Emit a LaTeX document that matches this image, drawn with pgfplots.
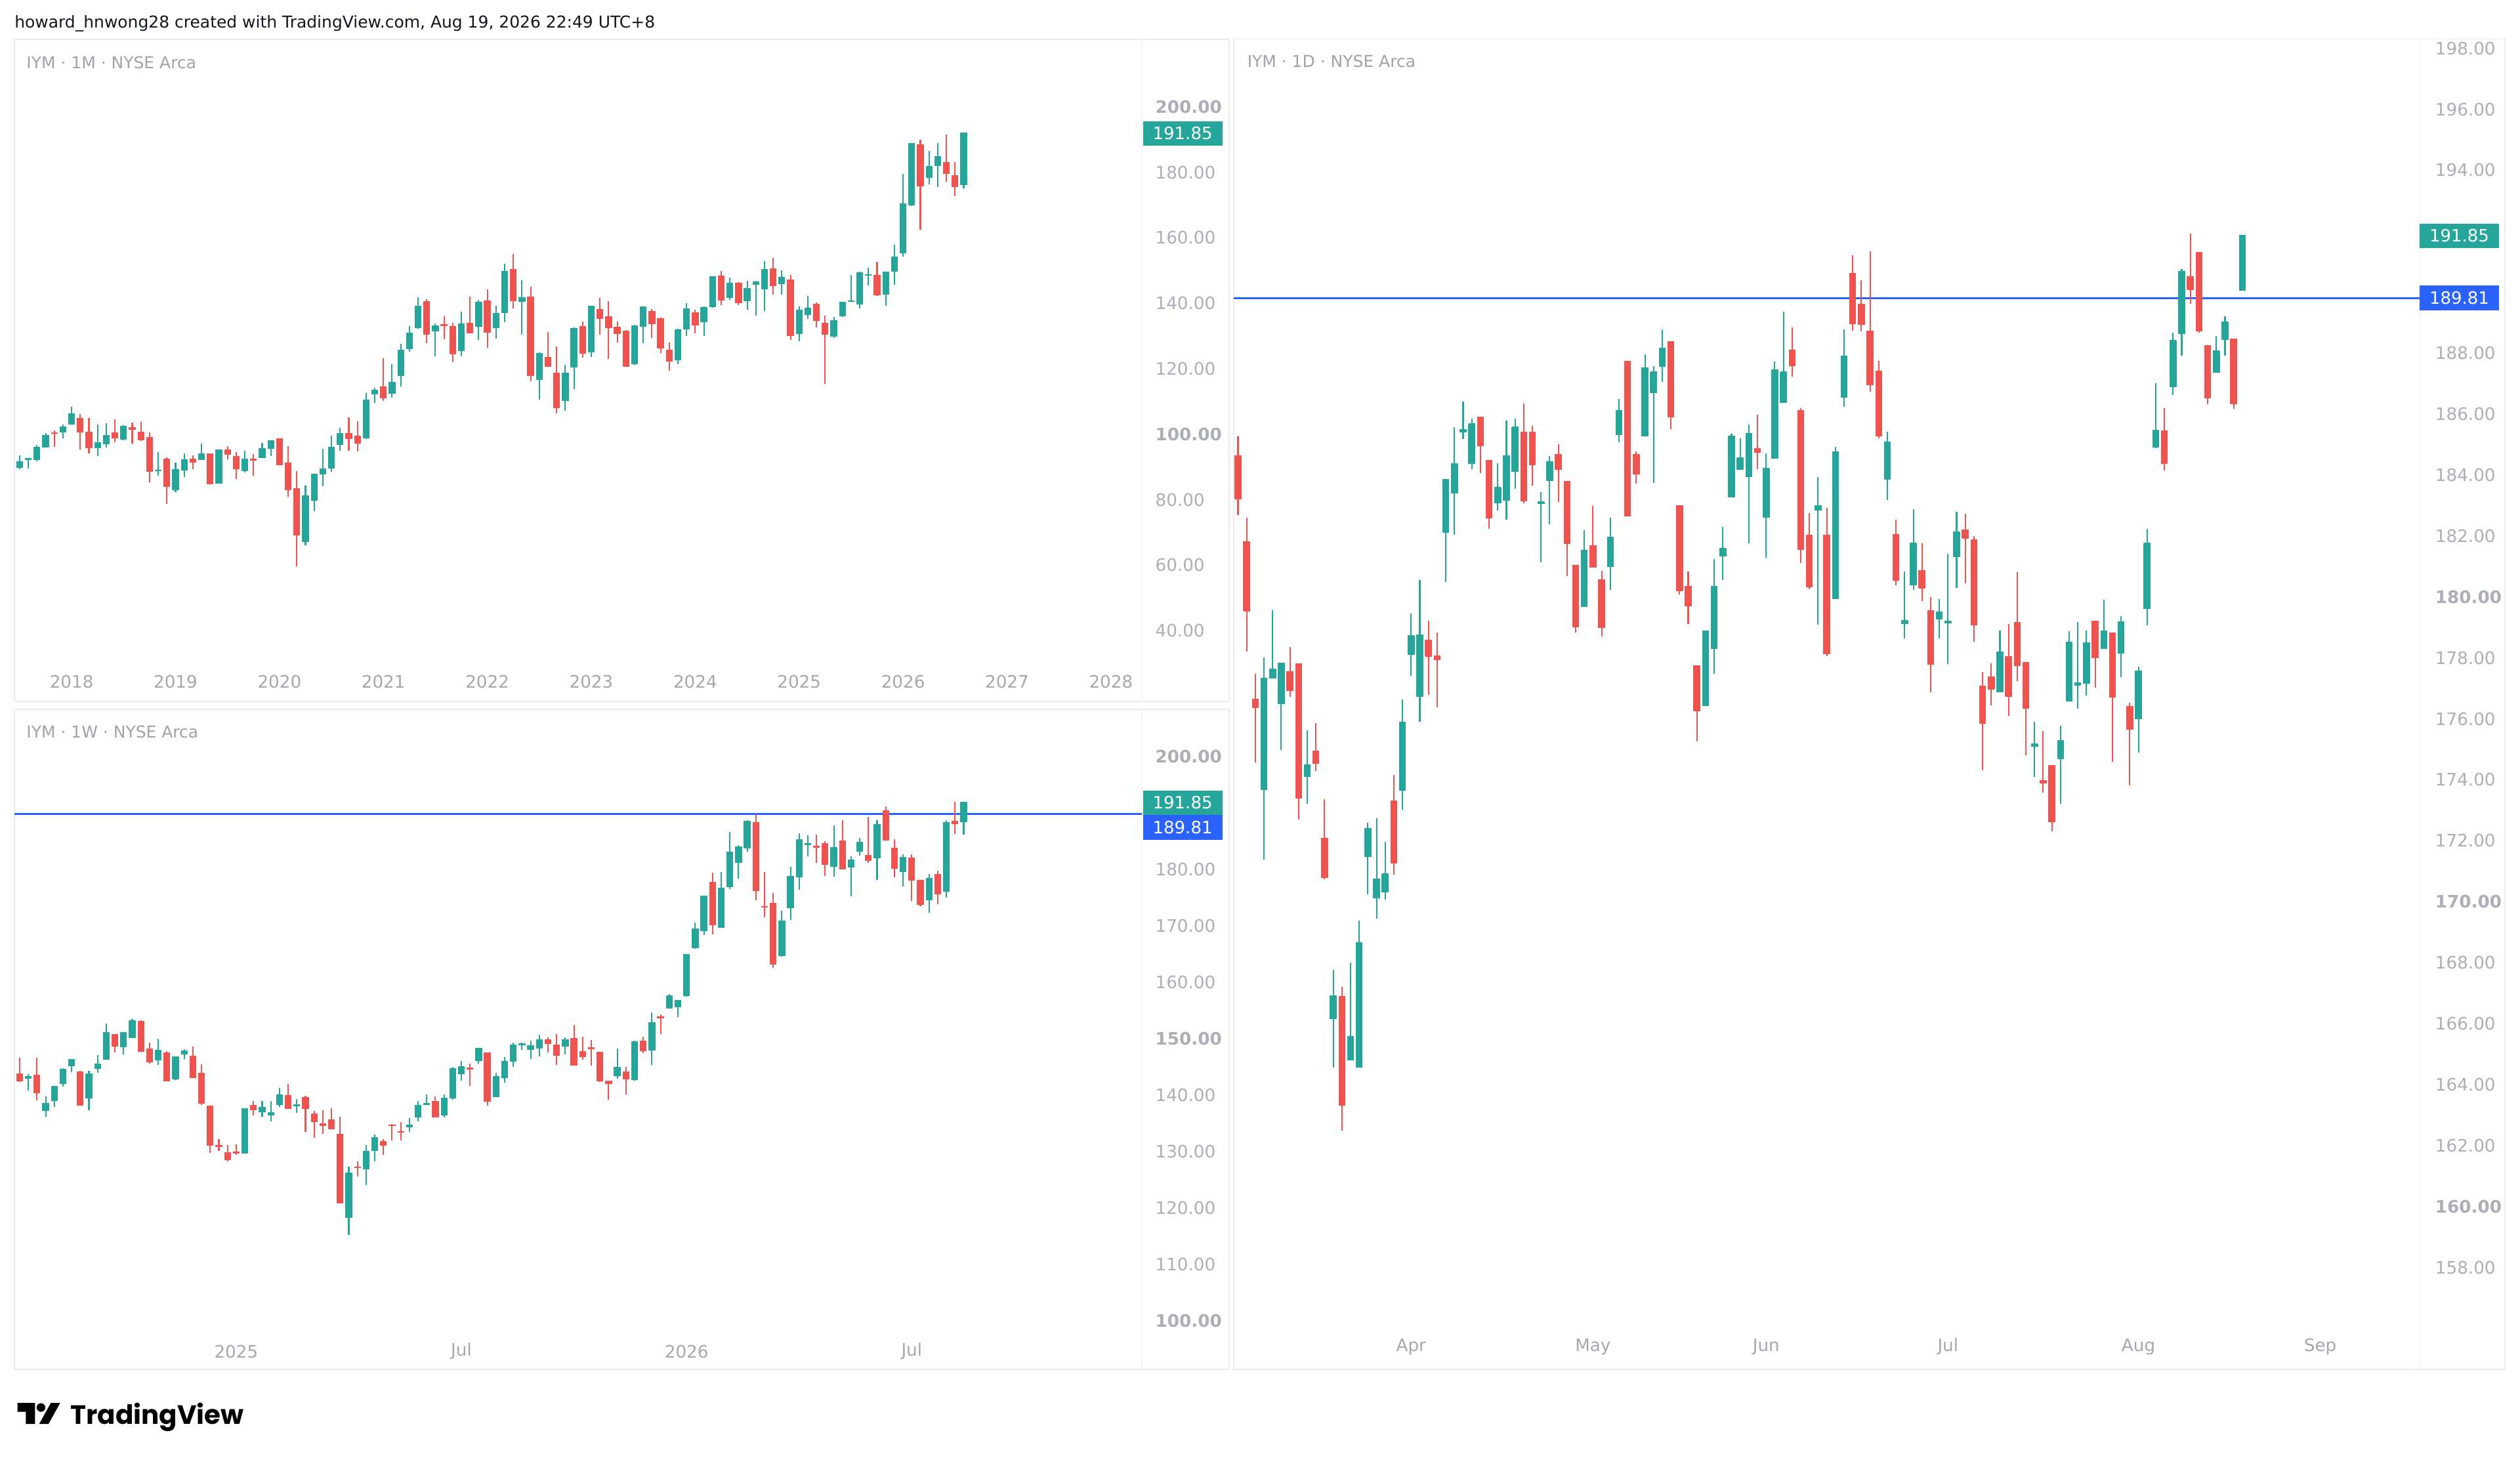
\documentclass[border=0pt]{standalone}
\usepackage{fontspec}
\setmainfont{DejaVu Sans}
\newfontfamily\tvfont{Poppins}
\usepackage{pgfplots}
\usepackage{pgfplotstable}
\pgfplotsset{compat=1.18}

\definecolor{tvgreen}{HTML}{26A69A}
\definecolor{tvred}{HTML}{EF5350}
\definecolor{tvblue}{HTML}{2962FF}
\definecolor{tickgray}{RGB}{172,175,184}
\definecolor{dategray}{RGB}{165,168,177}
\definecolor{titlegray}{RGB}{160,163,172}
\definecolor{panebd}{RGB}{234,236,241}
\definecolor{sepcol}{RGB}{244,245,248}
\definecolor{headcol}{RGB}{19,23,34}

% ---------------- Monthly (x = bar index, 0 = Jul 2017) ----------------
\pgfplotstableread{
x o h l c
0 89.8 93.6 89.3 91.6
1 92.1 92.7 89.6 92.5
2 92.1 96.7 91.8 95.9
3 96.0 100.4 96.0 99.5
5 100.5 102.9 98.8 102.2
6 102.9 108.4 102.9 106.2
9 95.8 102.9 93.3 97.4
10 96.9 103.4 96.0 99.6
12 98.4 102.7 98.1 102.3
16 88.8 94.6 87.4 89.0
18 82.9 91.4 82.3 89.1
19 88.9 94.1 86.9 92.1
21 92.2 97.1 92.2 94.0
23 85.0 95.3 85.0 95.1
26 88.7 94.9 88.4 92.3
28 92.8 97.3 92.8 95.6
29 95.5 98.2 93.3 98.0
33 67.0 84.3 66.0 81.2
34 79.7 88.0 76.5 87.7
35 87.7 95.6 84.1 89.3
36 89.5 99.6 88.6 95.9
37 96.7 101.9 95.0 100.1
40 98.8 112.5 98.5 110.4
41 112.2 114.2 109.6 113.4
43 112.3 121.3 111.2 115.8
44 117.7 127.5 114.5 125.5
45 126.0 133.0 125.2 130.9
46 132.4 141.8 132.1 139.1
48 131.4 133.9 123.8 133.1
51 125.3 137.5 123.7 133.6
53 132.7 141.1 128.8 140.2
55 132.3 139.2 129.2 136.9
56 137.1 152.1 134.2 149.6
58 140.4 147.1 130.3 141.6
60 116.5 125.0 110.5 124.5
63 110.1 121.1 107.1 118.6
64 120.4 132.6 113.8 132.3
66 125.0 139.2 123.6 139.1
71 121.3 133.4 121.1 133.1
72 132.8 139.1 127.8 138.8
76 122.5 132.2 121.4 131.9
77 131.9 140.0 129.9 138.3
79 134.3 139.1 130.0 138.7
80 138.8 148.3 138.6 148.0
82 141.6 147.8 141.1 146.1
84 140.6 146.9 138.0 144.4
85 145.7 146.8 136.3 146.4
86 144.3 152.9 137.6 150.3
88 145.8 150.1 142.6 147.8
90 130.5 139.1 128.3 137.9
91 136.5 142.2 135.2 138.4
94 129.8 135.9 129.3 134.6
95 136.1 140.4 135.8 140.2
96 140.5 148.6 140.4 140.7
97 139.7 149.6 138.4 149.2
98 148.4 150.8 145.5 148.6
100 142.6 149.6 139.2 149.5
101 149.6 157.9 145.7 154.0
102 155.2 179.5 154.3 170.3
103 169.9 188.9 169.6 188.7
105 178.2 186.6 176.2 181.7
106 181.9 188.9 175.4 184.8
109 176.1 192.2 175.0 191.85
}\mUp
\pgfplotstableread{
x o h l c
4 100.5 101.1 96.2 100.3
7 105.0 106.2 95.3 100.8
8 100.8 104.9 94.2 96.0
11 100.5 104.5 97.6 99.0
13 102.1 103.6 97.2 101.6
14 100.8 103.8 97.9 98.4
15 99.2 100.6 85.4 88.7
17 92.5 93.0 78.6 84.1
20 92.5 93.5 89.3 91.6
22 94.2 94.2 84.7 84.9
24 95.3 96.4 92.4 93.9
25 93.3 94.6 86.3 89.6
27 92.5 93.9 87.3 92.2
30 98.8 98.8 90.5 90.7
31 91.4 96.4 80.8 83.0
32 83.6 88.7 59.7 69.3
38 100.4 105.2 95.0 98.7
39 99.5 104.0 94.7 97.3
42 114.6 123.1 110.2 111.1
47 140.6 141.3 127.7 130.5
49 133.7 136.1 128.9 133.2
50 133.0 134.1 122.0 124.6
52 134.0 142.0 130.9 130.9
54 140.9 144.2 126.4 131.1
57 150.4 155.0 138.4 140.9
59 142.0 145.1 116.2 117.9
61 123.6 131.1 120.7 120.7
62 118.8 126.8 106.4 108.2
65 133.1 134.5 123.4 124.8
67 138.3 141.6 130.3 135.4
68 136.0 140.6 123.0 132.6
69 132.8 134.5 128.0 130.8
70 131.5 131.7 120.7 120.8
73 137.6 138.3 129.4 133.8
74 135.4 135.7 124.8 126.4
75 125.7 128.0 119.3 122.3
78 137.2 138.1 130.8 133.3
81 148.4 149.9 139.5 141.1
83 146.2 146.4 139.4 140.2
87 150.6 153.8 142.7 145.5
89 147.2 148.6 128.8 130.1
92 139.8 140.2 132.6 134.8
93 134.1 136.3 115.3 130.6
99 148.6 152.6 142.3 142.6
104 188.6 189.9 162.5 175.9
107 183.0 191.5 177.1 179.7
108 179.1 183.0 172.6 175.7
}\mDn

% ---------------- Weekly ----------------
\pgfplotstableread{
x o h l c
1 142.85 143.7 140.8 143.3
3 137.2 139.8 136.2 138.5
4 138.9 141.5 137.9 141.5
5 142.0 144.8 141.5 144.5
6 145.15 146.3 144.1 146.3
8 139.4 144.3 137.3 143.7
9 144.6 147.1 144.0 145.5
10 146.3 152.7 146.3 151.1
12 148.5 151.1 147.2 151.1
13 150.1 153.5 150.1 153.2
16 146.2 150.0 145.3 147.9
18 142.8 146.9 142.7 146.8
19 147.2 148.1 146.4 147.8
26 129.7 137.5 129.7 137.5
28 136.98 139.0 136.1 137.75
29 136.4 139.0 135.4 136.9
30 138.3 141.3 137.9 140.0
32 138.0 139.3 136.8 138.3
38 118.3 127.3 115.2 126.2
40 126.8 131.1 124.1 130.0
41 130.1 133.0 128.3 132.4
45 134.35 135.9 133.5 134.6
46 136.0 139.0 135.4 138.1
47 138.3 140.1 138.2 138.5
49 136.4 140.1 136.0 139.4
50 139.4 145.0 139.2 144.7
51 143.7 146.0 142.6 145.0
53 146.0 148.4 145.6 148.2
55 139.7 143.9 139.7 143.2
56 143.0 146.8 142.2 145.9
57 145.9 149.3 145.0 148.8
58 148.8 149.3 148.0 149.1
59 148.0 149.6 146.4 148.7
60 148.3 150.7 146.9 149.8
63 148.6 150.2 147.2 149.8
69 143.4 148.3 142.85 144.9
71 142.7 149.7 142.6 149.4
73 147.9 154.7 145.4 152.8
75 155.4 157.9 155.4 157.6
76 155.6 156.7 153.8 156.7
77 157.6 165.0 157.5 164.9
78 166.1 170.6 165.9 169.4
79 169.1 175.4 168.4 175.3
81 169.7 179.6 169.7 176.7
82 176.9 186.6 176.5 183.0
83 181.2 184.3 178.4 184.0
84 183.7 188.7 183.2 188.5
88 164.6 172.7 164.5 170.8
89 173.2 180.5 171.0 178.7
90 178.6 186.4 176.4 185.3
91 184.3 186.1 182.3 184.5
94 180.5 187.8 178.7 183.9
96 180.4 182.3 175.3 181.6
97 183.2 185.6 182.5 184.8
99 182.0 188.7 178.2 187.9
102 179.5 182.7 177.0 182.1
105 174.5 179.2 172.3 178.4
107 176.0 188.7 175.0 188.3
109 188.4 191.85 186.2 191.85
}\wUp
\pgfplotstableread{
x o h l c
0 143.8 146.6 142.3 142.5
2 143.6 146.6 139.1 140.5
7 144.2 144.3 138.2 138.2
11 150.8 150.8 147.6 148.7
14 153.1 153.2 147.8 147.8
15 148.2 149.3 145.6 145.9
17 147.5 147.8 142.4 142.6
20 147.0 148.6 143.0 143.1
21 144.0 145.5 138.3 138.6
22 138.1 138.1 129.8 131.2
23 131.1 132.2 130.1 130.9
24 129.9 131.1 128.3 128.6
25 130.0 131.3 129.4 129.8
27 138.2 139.0 136.4 137.4
31 140.0 142.0 137.7 137.7
33 139.7 139.9 133.5 137.7
34 136.7 137.2 132.4 135.3
35 135.0 137.3 133.1 134.7
36 135.7 137.7 134.1 134.1
37 133.1 136.2 120.8 120.9
39 127.3 128.3 125.6 127.2
42 131.8 132.2 129.4 131.2
43 134.7 134.9 132.0 134.6
44 133.6 135.2 132.0 133.5
48 139.0 139.8 136.1 136.1
52 144.9 145.6 141.6 144.6
54 147.6 147.6 138.1 139.0
61 149.9 150.2 147.5 149.2
62 149.0 150.8 145.4 147.1
64 150.1 152.5 145.4 145.4
65 147.8 150.4 146.3 146.85
66 148.5 149.8 145.2 148.3
67 147.7 147.7 142.3 142.6
68 142.6 142.6 139.2 142.1
70 144.2 145.0 140.1 142.85
72 149.6 150.4 147.4 147.9
74 153.9 154.3 150.8 153.7
80 177.8 179.4 168.5 170.2
85 188.4 189.8 174.6 176.3
86 173.5 179.5 171.5 173.4
87 174.1 175.8 162.6 163.3
92 184.2 186.2 181.2 184.0
93 184.7 185.0 178.8 180.9
95 185.1 188.7 180.1 180.1
98 182.6 189.3 181.2 181.6
100 190.5 191.2 185.3 185.3
101 183.8 185.4 178.6 180.3
103 182.1 182.7 174.4 178.2
104 178.1 178.1 173.5 173.8
106 179.2 179.8 173.8 175.7
108 188.6 192.0 186.3 188.1
}\wDn

% ---------------- Daily (x = trading-day index, 0 = 4 Mar 2026) ----------------
\pgfplotstableread{
x o h l c
3 173.67 178.01 171.38 177.33
4 177.33 179.57 177.33 177.62
5 176.49 177.82 174.97 177.82
8 174.10 175.62 173.22 174.49
11 166.16 167.76 164.56 166.90
13 164.79 168.01 164.79 165.57
14 164.56 169.38 164.56 168.65
15 171.46 172.59 170.25 172.40
16 170.12 172.75 169.44 170.74
17 170.31 171.97 170.06 170.92
19 173.65 176.63 173.02 175.89
20 178.11 179.46 177.41 178.72
21 176.73 180.55 175.91 178.75
24 182.11 183.84 180.49 183.84
25 183.39 185.56 182.05 184.37
26 185.40 186.40 185.19 185.48
27 184.37 185.85 184.19 185.68
30 183.08 184.39 182.83 183.59
31 183.16 185.79 182.54 184.62
32 184.10 185.85 183.55 185.58
35 183.06 183.45 181.13 183.12
36 183.80 184.62 182.38 184.43
40 179.67 182.19 179.67 181.52
43 180.98 182.60 180.24 181.95
44 185.32 186.49 185.07 186.10
47 185.27 187.96 185.27 187.51
48 186.69 187.57 183.75 187.37
49 187.55 188.78 187.06 188.15
54 176.43 178.87 176.43 178.87
55 178.29 181.25 177.47 180.35
56 181.33 182.30 180.55 181.58
57 183.26 185.36 183.26 185.27
58 184.17 185.21 184.17 184.55
59 183.94 185.66 181.76 185.36
61 182.61 184.70 181.29 184.21
62 184.53 187.72 184.53 187.45
63 186.36 189.36 186.36 187.37
67 182.83 183.94 179.09 182.98
69 179.94 184.93 179.94 184.76
70 186.53 188.78 186.24 187.90
75 183.84 185.42 183.18 185.07
77 179.11 180.84 178.64 179.23
78 180.39 182.89 180.24 181.76
81 179.26 179.94 178.64 179.49
82 179.13 181.41 177.80 179.19
83 181.31 182.79 180.29 182.13
88 176.88 178.89 176.88 178.19
92 175.09 175.91 174.09 175.17
95 174.68 175.77 173.22 175.28
96 176.57 178.87 176.57 178.52
97 177.08 179.18 176.34 177.17
98 177.16 178.89 176.77 178.48
100 178.29 179.90 178.29 178.87
102 178.15 179.38 177.37 179.18
104 176.00 177.72 174.89 177.56
105 179.61 182.24 179.07 181.76
106 184.91 187.02 184.88 185.46
108 186.88 188.68 186.63 188.42
109 188.62 190.76 187.92 190.67
113 187.35 188.56 187.35 188.07
114 188.44 189.20 187.92 189.01
116 190.04 191.85 190.04 191.85
}\dUp
\pgfplotstableread{
x o h l c
0 184.64 185.27 182.69 183.22
1 181.82 182.59 178.21 179.55
2 176.65 177.47 174.58 176.38
6 177.56 178.36 176.73 176.94
7 177.82 177.82 172.69 173.41
9 174.95 175.87 174.29 174.54
10 172.09 173.37 170.74 170.80
12 166.90 167.21 162.49 163.33
18 173.33 174.15 170.88 171.27
22 178.60 179.22 176.79 178.05
23 178.07 178.83 176.38 177.95
28 185.91 185.91 184.06 184.97
29 184.49 184.49 182.24 182.60
33 185.42 186.34 183.08 183.16
34 185.42 185.62 183.65 184.35
37 184.68 185.01 183.12 184.19
38 183.80 183.80 180.68 181.76
39 181.04 181.04 178.83 179.03
41 181.70 182.98 180.98 180.98
42 180.57 180.86 178.70 179.01
45 187.74 187.74 182.67 182.67
46 184.68 184.78 183.71 184.04
50 188.39 188.39 185.50 185.91
51 183.00 183.00 180.08 180.20
52 180.35 180.84 179.12 179.71
53 177.76 177.76 175.26 176.26
60 184.88 185.99 184.19 184.76
64 188.11 188.85 187.22 187.59
65 186.14 186.20 181.11 181.56
66 182.03 182.75 180.26 180.33
68 182.03 182.93 178.05 178.15
71 190.63 191.21 188.74 188.97
72 189.61 190.39 188.72 188.95
73 188.74 191.35 186.73 186.98
74 187.43 187.74 185.21 185.30
76 182.07 182.54 180.39 180.55
79 180.88 181.76 179.87 180.29
80 179.57 179.99 176.88 177.80
84 182.21 182.73 180.45 181.93
85 181.89 181.99 178.54 179.09
86 177.08 177.55 174.31 175.87
87 177.39 177.82 176.45 176.98
89 178.05 179.12 176.10 176.75
90 179.18 180.82 177.23 177.76
91 177.86 177.86 174.80 176.36
93 173.98 175.60 173.57 173.90
94 174.48 174.48 172.30 172.63
99 179.22 179.22 177.02 178.01
101 178.83 178.83 174.60 176.73
103 176.43 176.53 173.82 175.67
107 185.46 186.20 184.15 184.39
110 190.53 191.93 189.61 190.10
111 191.31 191.31 188.66 188.74
112 188.27 188.27 186.32 186.53
115 188.48 188.48 186.18 186.34
}\dDn

% candle drawing: wick, body, and a thin close tick so dojis stay visible
\newcommand{\candles}[3]{%
  \addplot[draw=none, mark=none, forget plot,
    error bars/.cd, y dir=plus, y explicit, error mark=none,
    error bar style={draw=#2, line width=0.85pt}]
    table[x=x, y=l, y error plus expr=\thisrow{h}-\thisrow{l}] {#1};
  \addplot[draw=none, mark=none, forget plot,
    error bars/.cd, y dir=plus, y explicit, error mark=none,
    error bar style={draw=#2, line width=#3}]
    table[x=x, y expr={min(\thisrow{o},\thisrow{c})}, y error plus expr={abs(\thisrow{c}-\thisrow{o})}] {#1};
  \addplot[only marks, mark=-, mark size=2.1pt, forget plot,
    mark options={draw=#2, line width=0.8pt}]
    table[x=x, y=c] {#1};
}

\pgfplotsset{
  tvpane/.style={
    scale only axis, clip=false,
    axis line style={draw=panebd, line width=0.8pt},
    major tick length=0pt, tick style={draw=none},
    yticklabel pos=right,
    yticklabel style={anchor=west, inner sep=0pt, text=tickgray,
      font=\fontsize{10.7}{10.7}\selectfont},
    xticklabel style={anchor=center, inner sep=0pt, text=dategray,
      font=\fontsize{10.7}{10.7}\selectfont},
  },
}
\tikzset{
  tag/.style={inner sep=0pt, minimum width=49.3pt, minimum height=15.3pt,
    text=white, font=\fontsize{10.6}{10.6}\selectfont},
}

\begin{document}
\begin{tikzpicture}[x=1pt,y=1pt]
\fill[white] (0,0) rectangle (1568,907);

% header
\node[anchor=base west, inner sep=0pt, text=headcol,
  font=\fontsize{10.2}{12}\selectfont] at (8.9,889.6)
  {howard\_hnwong28 created with TradingView.com, Aug 19, 2026 22:49 UTC+8};

% ---------------- Monthly pane ----------------
\begin{axis}[tvpane, at={(8.9pt,470.5pt)}, anchor=south west,
  width=755.8pt, height=412pt,
  xmin=-0.618, xmax=139.63, ymin=18.38, ymax=220.58,
  xtick={6,18,30,42,54,66,78,90,102,114,126},
  xticklabels={2018,2019,2020,2021,2022,2023,2024,2025,2026,2027,2028},
  xticklabel style={yshift=12.4pt},
  ytick={40,60,80,100,120,140,160,180,200},
  yticklabels={40.00,60.00,80.00,\textbf{100.00},120.00,140.00,160.00,180.00,\textbf{200.00}},
  yticklabel style={xshift=-46pt}]
  \draw[sepcol, line width=0.6pt] (axis description cs:0.9283,0) -- (axis description cs:0.9283,1);
  \candles{\mUp}{tvgreen}{4.2pt}
  \candles{\mDn}{tvred}{4.2pt}
  \node[tag, fill=tvgreen, anchor=east] at (axis cs:138.89,191.85) {191.85};
  \node[anchor=west, inner sep=0pt, text=titlegray, font=\fontsize{10.2}{10.2}\selectfont]
    at (axis description cs:0.0098,0.9649) {IYM · 1M · NYSE Arca};
\end{axis}

% ---------------- Weekly pane ----------------
\begin{axis}[tvpane, at={(8.9pt,54.7pt)}, anchor=south west,
  width=755.8pt, height=411pt,
  xmin=-0.618, xmax=139.63, ymin=91.34, ymax=208.43,
  xtick={25,51,77,103},
  xticklabels={2025,Jul,2026,Jul},
  xticklabel style={yshift=11.3pt},
  ytick={100,110,120,130,140,150,160,170,180,190,200},
  yticklabels={\textbf{100.00},110.00,120.00,130.00,140.00,\textbf{150.00},160.00,170.00,180.00,,\textbf{200.00}},
  yticklabel style={xshift=-46pt}]
  \draw[sepcol, line width=0.6pt] (axis description cs:0.9283,0) -- (axis description cs:0.9283,1);
  \addplot[tvblue, line width=1.2pt, forget plot] coordinates {(-0.618,189.81) (129.57,189.81)};
  \candles{\wUp}{tvgreen}{4.2pt}
  \candles{\wDn}{tvred}{4.2pt}
  \node[tag, fill=tvgreen, anchor=east] at (axis cs:138.89,191.85) {191.85};
  \node[tag, fill=tvblue, anchor=east, yshift=-15.4pt] at (axis cs:138.89,191.85) {189.81};
  \node[anchor=west, inner sep=0pt, text=titlegray, font=\fontsize{10.2}{10.2}\selectfont]
    at (axis description cs:0.0098,0.9652) {IYM · 1W · NYSE Arca};
\end{axis}

% ---------------- Daily pane ----------------
\begin{axis}[tvpane, at={(767.7pt,54.7pt)}, anchor=south west,
  width=790.9pt, height=828pt,
  xmin=-0.483, xmax=146.33, ymin=154.65, ymax=198.305,
  xtick={20,41,61,82,104,125},
  xticklabels={Apr,May,Jun,Jul,Aug,Sep},
  xticklabel style={yshift=14.2pt},
  ytick={158,160,162,164,166,168,170,172,174,176,178,180,182,184,186,188,190,192,194,196,198},
  yticklabels={158.00,\textbf{160.00},162.00,164.00,166.00,168.00,\textbf{170.00},172.00,174.00,176.00,178.00,\textbf{180.00},182.00,184.00,186.00,188.00,,,194.00,196.00,198.00},
  yticklabel style={xshift=-43.5pt}]
  \draw[sepcol, line width=0.6pt] (axis description cs:0.9329,0) -- (axis description cs:0.9329,1);
  \addplot[tvblue, line width=1.2pt, forget plot] coordinates {(-0.483,189.81) (136.48,189.81)};
  \candles{\dUp}{tvgreen}{4.3pt}
  \candles{\dDn}{tvred}{4.3pt}
  \node[tag, fill=tvgreen, anchor=east] at (axis cs:145.67,191.85) {191.85};
  \node[tag, fill=tvblue, anchor=east] at (axis cs:145.67,189.81) {189.81};
  \node[anchor=west, inner sep=0pt, text=titlegray, font=\fontsize{10.2}{10.2}\selectfont]
    at (axis description cs:0.0104,0.9831) {IYM · 1D · NYSE Arca};
\end{axis}

% TradingView logo
\fill[black] (10.9,33.9) -- (21.8,33.9) -- (21.8,20.9) -- (16.1,20.9) -- (16.1,28.4) -- (10.9,28.4) -- cycle;
\fill[black] (25.5,31.1) circle (2.7);
\fill[black] (31.6,33.9) -- (37.4,33.9) -- (30.2,20.9) -- (24.4,20.9) -- cycle;
\node[anchor=base west, inner sep=0pt, font=\tvfont\bfseries\fontsize{16.5}{16.5}\selectfont] at (43.8,20.7) {TradingView};
\end{tikzpicture}
\end{document}
